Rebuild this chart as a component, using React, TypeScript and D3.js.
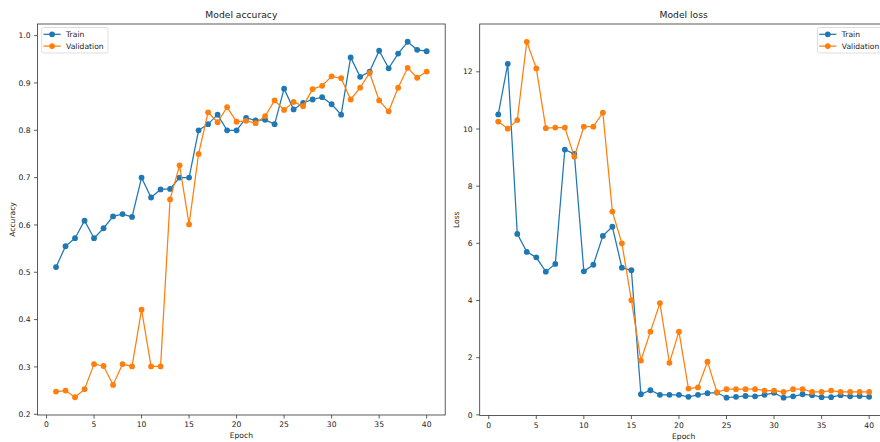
import * as d3 from "d3";

const epochs = d3.range(1, 41);

const trainAcc = [
  0.511, 0.555, 0.572, 0.609, 0.572, 0.593, 0.618, 0.623, 0.617, 0.7,
  0.658, 0.675, 0.676, 0.7, 0.7, 0.8, 0.813, 0.833, 0.8, 0.8,
  0.826, 0.821, 0.822, 0.813, 0.888, 0.844, 0.858, 0.865, 0.87, 0.855,
  0.833, 0.954, 0.913, 0.924, 0.968, 0.931, 0.962, 0.987, 0.97, 0.967,
];
const valAcc = [
  0.248, 0.25, 0.236, 0.253, 0.306, 0.302, 0.262, 0.306, 0.301, 0.421,
  0.301, 0.301, 0.654, 0.726, 0.601, 0.75, 0.838, 0.817, 0.849, 0.818,
  0.82, 0.815, 0.83, 0.863, 0.843, 0.86, 0.851, 0.887, 0.894, 0.914,
  0.91, 0.865, 0.89, 0.921, 0.863, 0.84, 0.89, 0.932, 0.911, 0.924,
];
const trainLoss = [
  10.51, 12.28, 6.33, 5.7, 5.51, 5.01, 5.28, 9.28, 9.13, 5.02,
  5.25, 6.26, 6.58, 5.15, 5.06, 0.72, 0.86, 0.7, 0.7, 0.7,
  0.63, 0.7, 0.76, 0.78, 0.6, 0.63, 0.66, 0.65, 0.7, 0.77,
  0.6, 0.65, 0.72, 0.69, 0.62, 0.62, 0.69, 0.65, 0.66, 0.63,
];
const valLoss = [
  10.26, 10.01, 10.31, 13.05, 12.12, 10.03, 10.05, 10.05, 9.03, 10.08,
  10.08, 10.57, 7.11, 6.0, 4.01, 1.9, 2.91, 3.91, 1.82, 2.91,
  0.92, 0.96, 1.86, 0.79, 0.9, 0.9, 0.9, 0.9, 0.85, 0.85,
  0.8, 0.9, 0.9, 0.8, 0.8, 0.85, 0.8, 0.8, 0.8, 0.8,
];

const xTicks = [0, 5, 10, 15, 20, 25, 30, 35, 40];
const accTicks = [0.2, 0.3, 0.4, 0.5, 0.6, 0.7, 0.8, 0.9, 1.0];
const lossTicks = [0, 2, 4, 6, 8, 10, 12];
const seriesNames = ["Train", "Validation"];
const COLORS = ["#1f77b4", "#ff7f0e"];

const FONT = "DejaVu Sans, sans-serif";
const TICK_FS = 7.6;

// matplotlib-style 5% margins
const padded = (lo: number, hi: number) => {
  const m = (hi - lo) * 0.05;
  return [lo - m, hi + m];
};

type PanelProps = {
  left: number;
  right: number;
  top: number;
  bottom: number;
  title: string;
  ylabel: string;
  series: number[][];
  yTicks: number[];
  yFormat: (v: number) => string;
  legend: "left" | "right";
  ylabelX: number;
};

const Panel = ({ left, right, top, bottom, title, ylabel, series, yTicks, yFormat, legend, ylabelX }: PanelProps) => {
  const xScale = d3.scaleLinear().domain(padded(1, 40)).range([left, right]);
  const all = series.flat();
  const yScale = d3
    .scaleLinear()
    .domain(padded(d3.min(all) as number, d3.max(all) as number))
    .range([bottom, top]);

  const line = d3
    .line<number>()
    .x((_, i) => xScale(epochs[i]))
    .y((d) => yScale(d));

  const legW = 66.3;
  const legH = 25.5;
  const legX = legend === "left" ? left + 4.2 : right - 4 - legW;
  const legY = top + 3.5;

  return (
    <g>
      <defs>
        <clipPath id={`clip-${title}`}>
          <rect x={left} y={top - 4} width={right - left} height={bottom - top + 8} />
        </clipPath>
      </defs>
      <text x={(left + right) / 2} y={top - 6} textAnchor="middle" fontSize={9.2} fontFamily={FONT} fill="#222">
        {title}
      </text>
      {series.map((s, k) => (
        <g key={k} clipPath={`url(#clip-${title})`}>
          <path d={line(s) ?? ""} fill="none" stroke={COLORS[k]} strokeWidth={1.25} />
          {s.map((v, i) => (
            <circle key={i} cx={xScale(epochs[i])} cy={yScale(v)} r={2.9} fill={COLORS[k]} />
          ))}
        </g>
      ))}
      <rect x={left} y={top} width={right - left} height={bottom - top} fill="none" stroke="#333" strokeWidth={0.8} />
      {xTicks.map((t) => (
        <g key={t} transform={`translate(${xScale(t)},${bottom})`}>
          <line y2={3.5} stroke="#333" strokeWidth={0.8} />
          <text y={12} textAnchor="middle" fontSize={TICK_FS} fontFamily={FONT} fill="#222">
            {t}
          </text>
        </g>
      ))}
      {yTicks.map((t) => (
        <g key={t} transform={`translate(${left},${yScale(t)})`}>
          <line x2={-3.5} stroke="#333" strokeWidth={0.8} />
          <text x={-7} dy="0.35em" textAnchor="end" fontSize={TICK_FS} fontFamily={FONT} fill="#222">
            {yFormat(t)}
          </text>
        </g>
      ))}
      <text x={(left + right) / 2} y={bottom + 23} textAnchor="middle" fontSize={TICK_FS} fontFamily={FONT} fill="#222">
        Epoch
      </text>
      <text
        transform={`translate(${ylabelX},${(top + bottom) / 2}) rotate(-90)`}
        textAnchor="middle"
        dy="0.35em"
        fontSize={TICK_FS}
        fontFamily={FONT}
        fill="#222"
      >
        {ylabel}
      </text>
      <g transform={`translate(${legX},${legY})`}>
        <rect width={legW} height={legH} rx={2} fill="white" fillOpacity={0.8} stroke="#d6d6d6" strokeWidth={0.8} />
        {seriesNames.map((name, k) => (
          <g key={name} transform={`translate(0,${6.8 + k * 11.8})`}>
            <line x1={1.8} x2={19} stroke={COLORS[k]} strokeWidth={1.25} />
            <circle cx={10.4} r={2.9} fill={COLORS[k]} />
            <text x={24.4} dy="0.35em" fontSize={TICK_FS} fontFamily={FONT} fill="#222">
              {name}
            </text>
          </g>
        ))}
      </g>
    </g>
  );
};

export default function App() {
  return (
    <svg width={880} height={442} style={{ position: "absolute", left: 0, top: 0, background: "white" }}>
      <Panel
        left={37.5}
        right={445.2}
        top={24}
        bottom={415}
        title="Model accuracy"
        ylabel="Accuracy"
        series={[trainAcc, valAcc]}
        yTicks={accTicks}
        yFormat={d3.format(".1f")}
        legend="left"
        ylabelX={12}
      />
      <Panel
        left={479.7}
        right={887.7}
        top={24}
        bottom={415.5}
        title="Model loss"
        ylabel="Loss"
        series={[trainLoss, valLoss]}
        yTicks={lossTicks}
        yFormat={d3.format("d")}
        legend="right"
        ylabelX={456}
      />
    </svg>
  );
}
